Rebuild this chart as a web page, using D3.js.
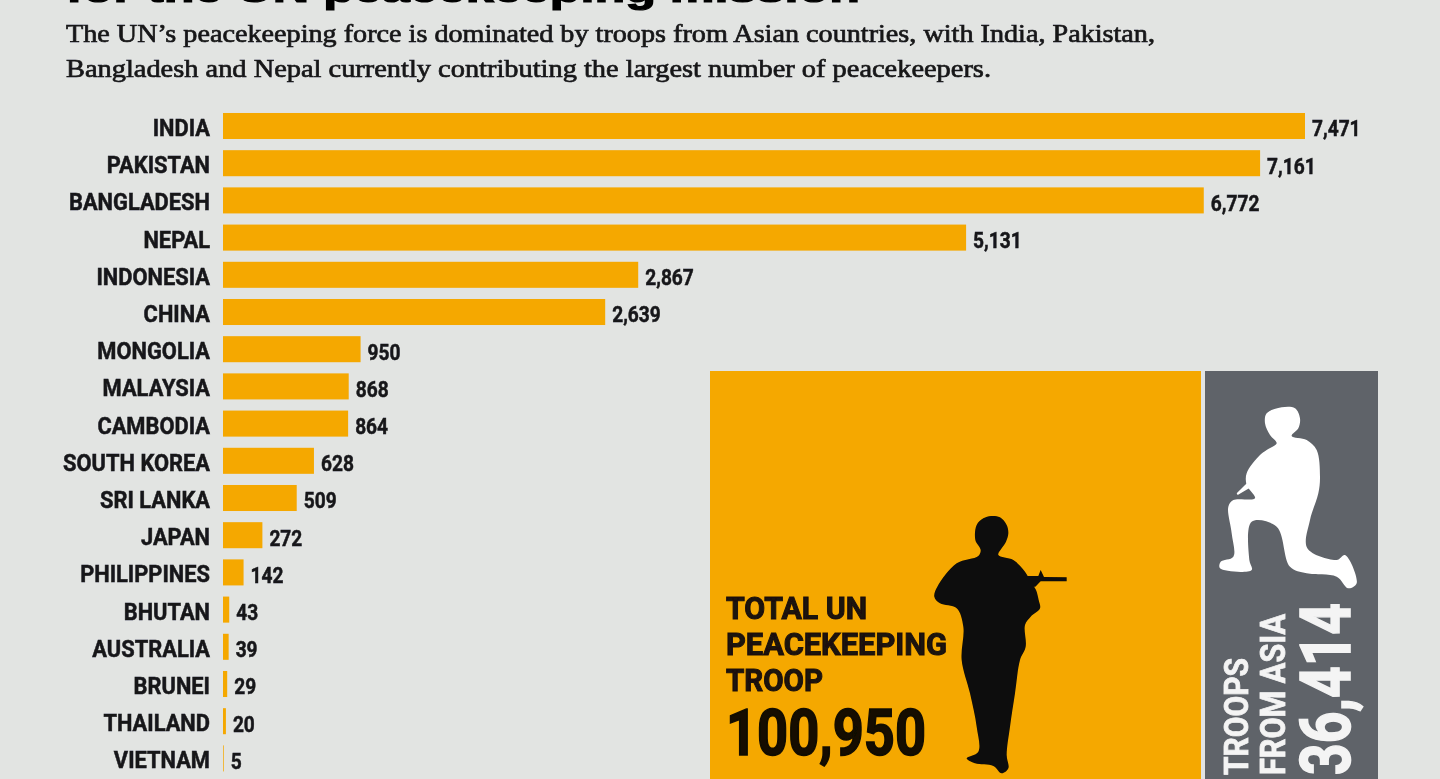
<!DOCTYPE html>
<html>
<head>
<meta charset="utf-8">
<title>UN peacekeeping troops from Asia</title>
<script src="https://cdn.jsdelivr.net/npm/d3@7"></script>
<style>
  html, body { margin: 0; padding: 0; background: #e2e4e2; overflow: hidden; }
  svg { display: block; }
  .narrow { font-family: Roboto, sans-serif; font-weight: 700; }
</style>
</head>
<body>
<script>
// values
var countries = ["INDIA", "PAKISTAN", "BANGLADESH", "NEPAL", "INDONESIA", "CHINA", "MONGOLIA", "MALAYSIA",
  "CAMBODIA", "SOUTH KOREA", "SRI LANKA", "JAPAN", "PHILIPPINES", "BHUTAN", "AUSTRALIA", "BRUNEI", "THAILAND", "VIETNAM"];
var troops = [7471, 7161, 6772, 5131, 2867, 2639, 950, 868, 864, 628, 509, 272, 142, 43, 39, 29, 20, 5];
var totalTroops = "100,950";
var asiaTroops = "36,414";

var titleText = "for the UN peacekeeping mission";
var subtitleLines = [
  "The UN\u2019s peacekeeping force is dominated by troops from Asian countries, with India, Pakistan,",
  "Bangladesh and Nepal currently contributing the largest number of peacekeepers."
];

var width = 1440, height = 779;
var orange = "#f5a800", grey = "#5f6369", ink = "#17171a";

var svg = d3.select("body").append("svg")
    .attr("width", width)
    .attr("height", height);

// the scan is soft, so everything gets a small blur
var soft = svg.append("defs").append("filter").attr("id", "soft");
soft.append("feGaussianBlur").attr("stdDeviation", 0.6);
var page = svg.append("g").attr("filter", "url(#soft)");

// stretches a label to the width it has in the picture
function fitted(sel, w) {
  return sel.attr("textLength", w).attr("lengthAdjust", "spacingAndGlyphs");
}

// squeezes labels because no condensed bold is installed
function squeeze(sel, k) {
  sel.each(function() {
    var t = d3.select(this);
    fitted(t, this.getComputedTextLength() * k);
  });
}

// heading, only its lower edge is on the page
fitted(page.append("text")
    .attr("x", 66)
    .attr("y", 2)
    .attr("font-family", "Liberation Sans, sans-serif")
    .attr("font-weight", 700)
    .attr("font-size", 36)
    .attr("fill", "#000")
    .attr("stroke", "#000")
    .attr("stroke-width", 1.2)
    .text(titleText), 794);

var subtitleWidths = [1089, 925];
page.selectAll(".sub")
    .data(subtitleLines)
  .enter().append("text")
    .attr("class", "sub")
    .attr("x", 66)
    .attr("y", function(d, i) { return 42 + i * 34.5; })
    .attr("font-family", "Liberation Serif, serif")
    .attr("font-size", 25.5)
    .attr("fill", ink)
    .attr("stroke", ink)
    .attr("stroke-width", 0.7)
    .attr("textLength", function(d, i) { return subtitleWidths[i]; })
    .attr("lengthAdjust", "spacingAndGlyphs")
    .text(function(d) { return d; });

// scales
var x = d3.scaleLinear().domain([0, 7471]).range([223, 1305]);
var y = d3.scaleBand()
    .domain(countries)
    .range([107.4, 777])
    .paddingInner(0.3)
    .paddingOuter(0.15);

var rows = countries.map(function(c, i) { return {name: c, value: troops[i]}; });

page.selectAll(".bar")
    .data(rows)
  .enter().append("rect")
    .attr("class", "bar")
    .attr("x", x(0))
    .attr("y", function(d) { return y(d.name); })
    .attr("width", function(d) { return x(d.value) - x(0); })
    .attr("height", y.bandwidth())
    .attr("fill", orange);

// country names
var axis = page.append("g")
    .attr("transform", "translate(210,2.5)")
    .call(d3.axisLeft(y).tickSize(0).tickPadding(0));
axis.select(".domain").remove();
axis.selectAll("text")
    .attr("class", "narrow")
    .attr("font-size", 23.5)
    .attr("font-family", null)
    .attr("fill", ink)
    .attr("stroke", ink)
    .attr("stroke-width", 0.5)
    .call(squeeze, 0.93);

// values at the end of the bars
page.selectAll(".val")
    .data(rows)
  .enter().append("text")
    .attr("class", "val narrow")
    .attr("x", function(d) { return x(d.value) + 7; })
    .attr("y", function(d) { return y(d.name) + y.bandwidth() / 2 + 2.5; })
    .attr("dy", "0.35em")
    .attr("font-size", 22.5)
    .attr("fill", ink)
    .attr("stroke", ink)
    .attr("stroke-width", 0.5)
    .text(function(d) { return d3.format(",")(d.value); })
    .call(squeeze, 0.85);

// inset panels
page.append("rect").attr("x", 710).attr("y", 371).attr("width", 491).attr("height", 408).attr("fill", orange);
page.append("rect").attr("x", 1205).attr("y", 371).attr("width", 173).attr("height", 408).attr("fill", grey);

// soldier shapes, outlines traced in 3x crop coordinates
var standingBody = [[873,468],[900,472],[920,495],[925,520],[918,545],[905,565],[895,585],[940,600],[975,635],[995,670],[1008,690],[1016,720],[1020,745],[992,770],[975,795],[977,860],[960,900],[945,1000],[930,1100],[920,1185],[925,1225],[905,1240],[880,1218],[825,1210],[800,1195],[835,1175],[830,1100],[810,1000],[785,900],[790,800],[770,745],[720,730],[703,710],[712,680],[770,610],[835,588],[842,570],[826,540],[830,495],[850,475]];
var standingRifle = [[980,648],[1015,648],[1022,630],[1032,651],[1100,652],[1100,664],[1022,664],[1006,680],[985,680]];
var kneelingBody = [[545,142],[585,145],[600,175],[595,205],[575,228],[620,240],[650,270],[660,350],[655,400],[630,480],[622,565],[710,600],[735,585],[770,670],[745,685],[710,650],[620,640],[570,620],[530,500],[455,485],[448,600],[455,630],[360,625],[362,605],[400,590],[395,520],[385,440],[400,420],[465,415],[440,375],[440,340],[480,285],[500,270],[530,250],[510,225],[495,190],[500,160]];
var kneelingRifle = [[445,365],[410,400],[413,405],[455,380]];

var blob = d3.line().curve(d3.curveCatmullRomClosed.alpha(0.5));
var sharp = d3.line().curve(d3.curveLinearClosed);

var blackSoldier = page.append("g").attr("fill", "#0c0a08")
    .attr("transform", "translate(700,360) scale(" + (1 / 3) + ")");
blackSoldier.append("path").attr("d", blob(standingBody));
blackSoldier.append("path").attr("d", sharp(standingRifle));

var whiteSoldier = page.append("g").attr("fill", "#fff")
    .attr("transform", "translate(1100,360) scale(" + (1 / 3) + ")");
whiteSoldier.append("path").attr("d", blob(kneelingBody));
whiteSoldier.append("path").attr("d", sharp(kneelingRifle));

// orange panel text
var totalLines = [
  {t: "TOTAL UN", y: 619, w: 141},
  {t: "PEACEKEEPING", y: 655, w: 221},
  {t: "TROOP", y: 691, w: 97}
];
totalLines.forEach(function(d) {
  fitted(page.append("text")
      .attr("class", "narrow")
      .attr("x", 726)
      .attr("y", d.y)
      .attr("font-size", 30.5)
      .attr("fill", "#1c120a")
      .attr("stroke", "#1c120a")
      .attr("stroke-width", 1)
      .text(d.t), d.w);
});
fitted(page.append("text")
    .attr("class", "narrow")
    .attr("x", 726)
    .attr("y", 755)
    .attr("font-size", 65)
    .attr("fill", "#120c06")
    .attr("stroke", "#120c06")
    .attr("stroke-width", 1.6)
    .text(totalTroops), 200);

// grey panel text, runs upwards
var asiaLines = [
  {t: "TROOPS", x: 1248, size: 33, w: 117},
  {t: "FROM ASIA", x: 1285, size: 35, w: 161},
  {t: asiaTroops, x: 1350, size: 70, w: 172}
];
asiaLines.forEach(function(d) {
  fitted(page.append("text")
      .attr("class", "narrow")
      .attr("transform", "translate(" + d.x + ",775) rotate(-90)")
      .attr("font-size", d.size)
      .attr("fill", "#f4f4f4")
      .attr("stroke", "#f4f4f4")
      .attr("stroke-width", d.size > 50 ? 1.6 : 0.8)
      .text(d.t), d.w);
});
</script>
</body>
</html>
